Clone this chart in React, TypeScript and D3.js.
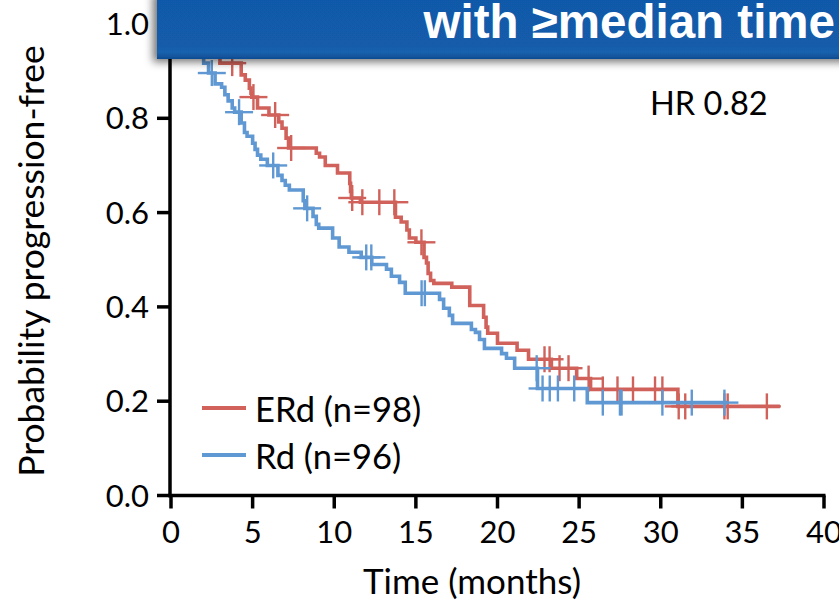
import React from "react";
import * as d3 from "d3";

// ---- data (months, probability) ----
const X_TICKS = [0, 5, 10, 15, 20, 25, 30, 35, 40];
const Y_TICKS = [0, 0.2, 0.4, 0.6, 0.8, 1.0];

const ERD_TIMES = [0, 0.9, 1.6, 2.1, 2.6, 3.0, 4.3, 4.55, 4.8, 4.9, 4.95, 5.3, 6.0, 6.6, 6.8, 7.05, 7.2, 8.9, 9.1, 9.45, 10.2, 10.95, 11.0, 11.05, 11.6, 13.75, 14.1, 14.45, 14.6, 15.0, 15.5, 15.65, 15.75, 15.9, 16.1, 17.2, 18.3, 19.15, 19.3, 19.4, 20.0, 21.2, 21.9, 23.3, 24.85, 25.7, 31.05];
const ERD_SURV = [1.0, 0.99, 0.98, 0.959, 0.938, 0.917, 0.892, 0.881, 0.864, 0.853, 0.845, 0.822, 0.807, 0.792, 0.779, 0.758, 0.737, 0.726, 0.718, 0.7, 0.684, 0.662, 0.645, 0.631, 0.622, 0.59, 0.58, 0.563, 0.546, 0.537, 0.505, 0.493, 0.471, 0.456, 0.45, 0.442, 0.403, 0.378, 0.357, 0.344, 0.323, 0.308, 0.289, 0.27, 0.248, 0.225, 0.189];
const ERD_END = 37.3;
const ERD_CENSOR = [3.75, 5.05, 6.38, 7.36, 11.1, 11.72, 12.76, 13.68, 15.34, 22.88, 23.19, 23.8, 24.35, 25.58, 26.45, 27.35, 28.3, 29.65, 30.1, 31.1, 31.5, 33.9, 34.1, 36.5];

const RD_TIMES = [0, 0.6, 1.0, 1.4, 1.7, 2.0, 2.3, 2.7, 3.1, 3.3, 3.5, 3.75, 3.9, 4.3, 4.5, 4.66, 5.0, 5.15, 5.3, 5.5, 5.9, 6.55, 6.8, 7.0, 7.25, 8.1, 8.2, 8.7, 8.9, 9.05, 9.9, 10.3, 10.9, 11.65, 12.3, 13.2, 13.5, 14.0, 14.35, 16.45, 16.7, 17.05, 17.25, 18.4, 18.65, 18.9, 19.2, 20.25, 20.55, 21.05, 22.45, 25.5];
const RD_SURV = [1.0, 0.99, 0.979, 0.958, 0.938, 0.917, 0.896, 0.873, 0.866, 0.85, 0.837, 0.822, 0.813, 0.79, 0.77, 0.762, 0.747, 0.734, 0.722, 0.713, 0.7, 0.679, 0.668, 0.658, 0.648, 0.625, 0.609, 0.592, 0.575, 0.567, 0.546, 0.527, 0.516, 0.505, 0.49, 0.48, 0.465, 0.452, 0.429, 0.416, 0.397, 0.382, 0.365, 0.352, 0.346, 0.331, 0.312, 0.301, 0.291, 0.27, 0.227, 0.197];
const RD_END = 34.1;
const RD_CENSOR = [2.5, 4.17, 6.26, 8.34, 11.96, 12.27, 15.35, 15.55, 22.4, 22.76, 23.2, 23.7, 24.7, 26.45, 27.5, 27.6, 30.1, 31.9, 33.9];

const SERIES_NAMES = ["ERd (n=98)", "Rd (n=96)"];
const HR_LABEL = "HR 0.82";
const BANNER_TEXT = "with \u2265median time";
const X_TITLE = "Time (months)";
const Y_TITLE = "Probability progression-free";

const RED = "#D0625B";
const BLUE = "#5F98D2";
const FONT = "Lato, 'Open Sans', sans-serif";

export default function App() {
  const W = 839;
  const H = 601;
  const x = d3.scaleLinear().domain([0, 40]).range([171, 824]);
  const y = d3.scaleLinear().domain([0, 1]).range([495.5, 24]);

  const mk = (times: number[], surv: number[], end: number) => {
    const pts: [number, number][] = times.map((t, i) => [t, surv[i]]);
    pts.push([end, surv[surv.length - 1]]);
    return pts;
  };
  const survAt = (times: number[], surv: number[], t: number) => {
    const i = d3.bisectRight(times, t) - 1;
    return surv[Math.max(0, i)];
  };
  const line = d3
    .line<[number, number]>()
    .x((d) => x(d[0]))
    .y((d) => y(d[1]))
    .curve(d3.curveStepAfter);

  const series = [
    { name: SERIES_NAMES[0], times: ERD_TIMES, surv: ERD_SURV, end: ERD_END, cens: ERD_CENSOR, color: RED },
    { name: SERIES_NAMES[1], times: RD_TIMES, surv: RD_SURV, end: RD_END, cens: RD_CENSOR, color: BLUE },
  ];

  return (
    <svg
      width={W}
      height={H}
      style={{ position: "absolute", left: 0, top: 0, background: "#fff" }}
      fontFamily={FONT}
    >
      <defs>
        <filter id="bshadow" x="-10%" y="-50%" width="120%" height="200%">
          <feDropShadow dx={-4} dy={3} stdDeviation={4} floodColor="#000" floodOpacity={0.55} />
        </filter>
        <linearGradient id="bgrad" x1="0" y1="0" x2="0" y2="1">
          <stop offset="0" stopColor="#1159A9" />
          <stop offset="0.8" stopColor="#125BAB" />
          <stop offset="0.9" stopColor="#1A62AE" />
          <stop offset="1" stopColor="#0E4C92" />
        </linearGradient>
      </defs>
      <rect width={W} height={H} fill="#fff" />

      {/* curves */}
      {series.map((s) => (
        <g key={s.name}>
          <path d={line(mk(s.times, s.surv, s.end)) || ""} fill="none" stroke={s.color} strokeWidth={3.6} />
          {s.cens.map((t, i) => {
            const cx = x(t);
            const cy = y(survAt(s.times, s.surv, t));
            return (
              <g key={i} stroke={s.color} strokeWidth={2.4}>
                <line x1={cx - 14} x2={cx + 14} y1={cy} y2={cy} />
                <line x1={cx} x2={cx} y1={cy - 13} y2={cy + 13} />
              </g>
            );
          })}
        </g>
      ))}

      {/* axes */}
      <g stroke="#000" strokeWidth={3.5}>
        <line x1={x(0) - 1} x2={x(0) - 1} y1={y(1)} y2={y(0) + 1.75} />
        <line x1={x(0) - 2.75} x2={x(40) + 1.5} y1={y(0)} y2={y(0)} />
        {Y_TICKS.map((v) => (
          <line key={v} x1={x(0) - 14} x2={x(0)} y1={y(v)} y2={y(v)} />
        ))}
        {X_TICKS.map((v) => (
          <line key={v} x1={x(v)} x2={x(v)} y1={y(0)} y2={y(0) + 13} />
        ))}
      </g>
      <g fontSize={31} fill="#000">
        {Y_TICKS.map((v) => (
          <text key={v} x={149} y={y(v)} dy="0.36em" textAnchor="end">
            {d3.format(".1f")(v)}
          </text>
        ))}
        {X_TICKS.map((v) => (
          <text key={v} x={x(v)} y={532} dy="0.36em" textAnchor="middle">
            {v}
          </text>
        ))}
      </g>
      <text x={472} y={581} dy="0.36em" textAnchor="middle" fontSize={35}>
        {X_TITLE}
      </text>
      <text
        transform="translate(31,261) rotate(-90)"
        dy="0.36em"
        textAnchor="middle"
        fontSize={35.5}
      >
        {Y_TITLE}
      </text>
      <text x={650} y={103} dy="0.36em" fontSize={32.5}>
        {HR_LABEL}
      </text>

      {/* legend */}
      {series.map((s, i) => (
        <g key={s.name}>
          <line x1={202} x2={246} y1={408 + i * 47} y2={408 + i * 47} stroke={s.color} strokeWidth={4} />
          <text x={255} y={410 + i * 47} dy="0.36em" fontSize={34.5}>
            {s.name}
          </text>
        </g>
      ))}

      {/* banner */}
      <rect x={157} y={-10} width={700} height={69} fill="url(#bgrad)" filter="url(#bshadow)" />
      <text
        x={835}
        y={38}
        textAnchor="end"
        fill="#fff"
        fontWeight="bold"
        fontSize={47.5}
        fontFamily="'Liberation Sans', Arial, sans-serif"
      >
        {BANNER_TEXT}
      </text>
    </svg>
  );
}
